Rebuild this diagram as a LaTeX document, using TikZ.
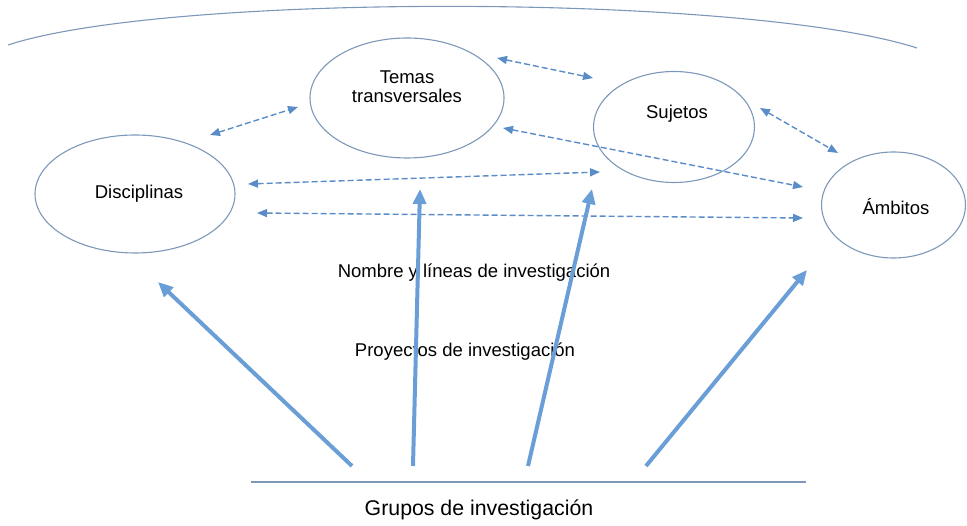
\documentclass[tikz,border=0pt]{standalone}
\usepackage{fontspec}
\setmainfont{Liberation Sans}
\usetikzlibrary{shapes.geometric,arrows.meta}
\definecolor{rim}{HTML}{7C98B8}
\definecolor{dash}{HTML}{5A8CC8}
\definecolor{thick}{HTML}{6A9ED6}
\tikzset{
  oval/.style={draw=rim, line width=1.1pt, ellipse, inner sep=0pt},
  lbl/.style={font=\fontsize{18.5}{22}\selectfont, inner sep=0pt, align=center},
  dlink/.style={draw=dash, line width=1.4pt, dash pattern=on 6pt off 3pt,
    {Triangle[length=10pt,width=8pt]}-{Triangle[length=10pt,width=8pt]}},
  uplink/.style={draw=thick, line width=4pt, -{Triangle[length=15pt,width=13pt]}}
}
\begin{document}
\begin{tikzpicture}[x=1pt,y=-1pt]
\useasboundingbox (0,0) rectangle (967,526);
% top arc
\coordinate (arcL) at (8,45);
\coordinate (arcR) at (917,48);
\draw[rim, line width=1.1pt] (arcL) .. controls (170,-8) and (750,-6) .. (arcR);

% ellipses
\node[oval, minimum width=194pt, minimum height=120pt] (temas) at (407,98) {};
\node[oval, minimum width=161pt, minimum height=111pt] (sujetos) at (674,127) {};
\node[oval, minimum width=144pt, minimum height=106pt] (ambitos) at (893.5,205) {};
\node[oval, minimum width=200pt, minimum height=118pt] (disc) at (135,194) {};

\node[lbl] (temasT) at (407,87) {Temas\\[-3pt]transversales};
\node[lbl] (sujetosT) at (677,114) {Sujetos};
\node[lbl] (ambitosT) at (896,207) {Ámbitos};
\node[lbl] (discT) at (139,194) {Disciplinas};

\node[lbl] (nombre) at (474,273) {Nombre y líneas de investigación};
\node[lbl] (proy) at (465,352) {Proyectos de investigación};
\node[lbl, font=\fontsize{21.3}{25}\selectfont] (grupos) at (479,510) {Grupos de investigación};

% dashed double arrows
\coordinate (d1a) at (210,135); \coordinate (d1b) at (298,107);
\coordinate (d2a) at (497,58);  \coordinate (d2b) at (593,78);
\coordinate (d3a) at (760,108); \coordinate (d3b) at (838,153);
\coordinate (d4a) at (503,128); \coordinate (d4b) at (803,187);
\coordinate (d5a) at (248,184); \coordinate (d5b) at (600,172);
\coordinate (d6a) at (257,213); \coordinate (d6b) at (803,218);
\draw[dlink] (d1a) -- (d1b);
\draw[dlink] (d2a) -- (d2b);
\draw[dlink] (d3a) -- (d3b);
\draw[dlink] (d4a) -- (d4b);
\draw[dlink] (d5a) -- (d5b);
\draw[dlink] (d6a) -- (d6b);

% base line
\coordinate (baseL) at (251,482);
\coordinate (baseR) at (806,482);
\draw[rim, line width=1.1pt] (baseL) -- (baseR);

% thick arrows
\coordinate (u1a) at (352,466); \coordinate (u1b) at (158,282);
\coordinate (u2a) at (413,466); \coordinate (u2b) at (420,189);
\coordinate (u3a) at (528,466); \coordinate (u3b) at (592,189);
\coordinate (u4a) at (646,466); \coordinate (u4b) at (807,270);
\draw[uplink] (u1a) -- (u1b);
\draw[uplink] (u2a) -- (u2b);
\draw[uplink] (u3a) -- (u3b);
\draw[uplink] (u4a) -- (u4b);
\end{tikzpicture}
\end{document}
